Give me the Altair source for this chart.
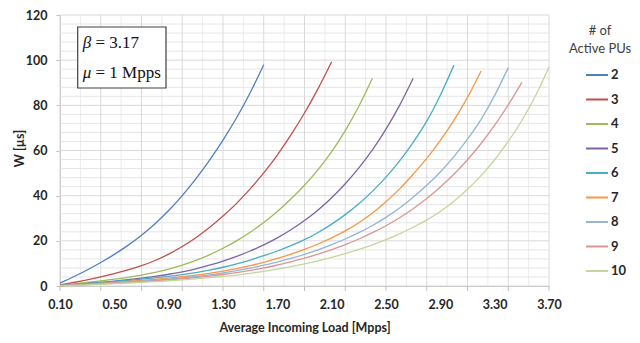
import altair as alt
import pandas as pd

# ---------------- data ----------------
loads = [0.1, 0.2, 0.3, 0.4, 0.5, 0.6, 0.7, 0.8, 0.9, 1.0, 1.1, 1.2, 1.3, 1.4,
         1.5, 1.6, 1.7, 1.8, 1.9, 2.0, 2.1, 2.2, 2.3, 2.4, 2.5, 2.6, 2.7, 2.8,
         2.9, 3.0, 3.1, 3.2, 3.3, 3.4, 3.5, 3.6, 3.7]
pus = ["2", "3", "4", "5", "6", "7", "8", "9", "10"]

w2 = [1.3, 4.1, 7.1, 10.4, 14.0, 18.0, 22.5, 27.6, 33.4, 40.0, 47.4, 55.6, 64.6, 74.5, 85.6, 98.0]
w3 = [0.5, 1.55, 2.7, 4.0, 5.45, 7.1, 9.0, 11.3, 14.1, 17.5, 21.4, 25.9, 31.0, 36.6, 43.0, 50.1,
      58.0, 66.9, 76.6, 87.4, 99.3]
w4 = [0.3, 0.9, 1.55, 2.25, 3.0, 3.85, 4.85, 6.05, 7.5, 9.2, 11.3, 13.8, 16.7, 20.0, 23.8, 28.1,
      33.0, 38.5, 44.6, 51.5, 59.5, 68.8, 79.6, 92.0]
w5 = [0.2, 0.6, 1.1, 1.6, 2.2, 2.8, 3.5, 4.3, 5.2, 6.3, 7.6, 9.2, 11.0, 13.1, 15.5, 18.2,
      21.3, 24.9, 29.0, 33.7, 39.1, 45.3, 52.3, 60.3, 69.5, 80.0, 92.0]
w6 = [0.2, 0.6, 1.0, 1.5, 2.0, 2.5, 3.0, 3.6, 4.3, 5.0, 5.9, 7.0, 8.3, 9.8, 11.5, 13.4,
      15.5, 17.9, 20.5, 23.7, 27.4, 31.6, 36.4, 41.9, 48.2, 55.4, 63.6, 73.0, 84.5, 97.8]
w7 = [0.15, 0.5, 0.85, 1.2, 1.6, 2.0, 2.45, 2.95, 3.5, 4.1, 4.8, 5.6, 6.6, 7.7, 9.0, 10.5,
      12.2, 14.1, 16.2, 18.6, 21.3, 24.4, 28.0, 32.3, 37.3, 43.0, 49.5, 56.5, 64.5, 73.3,
      83.5, 95.2]
w8 = [0.12, 0.4, 0.7, 1.0, 1.35, 1.7, 2.1, 2.55, 3.05, 3.6, 4.2, 4.95, 5.8, 6.8, 7.9, 9.2,
      10.6, 12.2, 14.0, 16.0, 18.3, 20.8, 23.6, 26.8, 30.4, 34.5, 39.3, 44.6, 50.5, 57.3,
      65.0, 73.8, 84.4, 96.7]
w9 = [0.1, 0.35, 0.6, 0.9, 1.2, 1.5, 1.85, 2.25, 2.7, 3.2, 3.75, 4.4, 5.1, 5.95, 6.9, 8.0,
      9.3, 10.7, 12.3, 14.1, 16.1, 18.3, 20.8, 23.6, 26.7, 30.2, 34.2, 38.7, 43.8, 49.5,
      55.9, 63.1, 71.2, 80.2, 90.2]
w10 = [0.08, 0.3, 0.52, 0.77, 1.02, 1.32, 1.62, 1.97, 2.32, 2.72, 3.17, 3.67, 4.22, 4.82,
       5.62, 6.52, 7.52, 8.62, 9.82, 11.17, 12.67, 14.32, 16.17, 18.22, 20.52, 23.12, 26.02,
       29.27, 33.0, 37.5, 42.8, 48.9, 55.9, 64.0, 73.3, 84.1, 97.0]
series = [w2, w3, w4, w5, w6, w7, w8, w9, w10]

colors = ["#4F81BD", "#C0504D", "#9BBB59", "#8064A2", "#4BACC6",
          "#F79646", "#95B3D7", "#D99694", "#C3D69B"]

x_labels = [0.1, 0.5, 0.9, 1.3, 1.7, 2.1, 2.5, 2.9, 3.3, 3.7]
x_major = [0.1, 0.4, 0.7, 1.0, 1.3, 1.6, 1.9, 2.2, 2.5, 2.8, 3.1, 3.4, 3.7]
x_minor = [0.25, 0.55, 0.85, 1.15, 1.45, 1.75, 2.05, 2.35, 2.65, 2.95, 3.25, 3.55]
y_major = [0, 20, 40, 60, 80, 100, 120]
y_minor = [4, 8, 12, 16, 24, 28, 32, 36, 44, 48, 52, 56, 64, 68, 72, 76,
           84, 88, 92, 96, 104, 108, 112, 116]

rows = []
for p, ws in zip(pus, series):
    for x, w in zip(loads, ws):
        rows.append({"load": x, "W": w, "pus": p})
df = pd.DataFrame(rows)

# ---------------- chart ----------------
PW, PH = 489, 271
FONT = "Lato"
TXT = "#262626"
AXC = "#bfbfbf"

xs = alt.Scale(domain=[0.1, 3.7], nice=False, zero=False)
ys = alt.Scale(domain=[0, 120], nice=False, zero=True)
one = pd.DataFrame({"a": [0]})

x_axis = alt.Axis(values=x_labels, format=".2f", title="Average Incoming Load [Mpps]",
                  grid=False, ticks=False, domainColor=AXC, labelFont=FONT,
                  labelFontWeight="bold", labelFontSize=12.5, labelColor=TXT,
                  labelPadding=12, labelFlush=False, titleFont=FONT, titleFontWeight="bold",
                  titleFontSize=12.5, titleColor=TXT, titleY=41, titleBaseline="middle")
y_axis = alt.Axis(values=y_major, title="W [µs]", grid=False, tickSize=4, tickColor=AXC,
                  domainColor=AXC, labelFont=FONT, labelFontWeight="bold",
                  labelFontSize=12.5, labelColor=TXT, labelPadding=9,
                  titleFont=FONT, titleFontWeight="bold", titleFontSize=12.5,
                  titleColor=TXT, titleX=-41, titleY=133, titleBaseline="middle",
                  titleAlign="center")

vminor = alt.Chart(pd.DataFrame({"x": x_minor})).mark_rule(color="#ececec", strokeWidth=1).encode(
    x=alt.X("x:Q", scale=xs, axis=x_axis))
hminor = alt.Chart(pd.DataFrame({"y": y_minor})).mark_rule(color="#e6e6e6", strokeWidth=1).encode(
    y=alt.Y("y:Q", scale=ys, axis=y_axis))
vmajor = alt.Chart(pd.DataFrame({"x": x_major})).mark_rule(color="#d9d9d9", strokeWidth=1).encode(
    x=alt.X("x:Q", scale=xs, axis=x_axis))
hmajor = alt.Chart(pd.DataFrame({"y": y_major})).mark_rule(color="#d9d9d9", strokeWidth=1).encode(
    y=alt.Y("y:Q", scale=ys, axis=y_axis))
xticks = alt.Chart(pd.DataFrame({"x": x_major})).mark_rule(color=AXC, strokeWidth=1).encode(
    x=alt.X("x:Q", scale=xs, axis=x_axis), y=alt.value(PH), y2=alt.value(PH + 5))

lines = alt.Chart(df).mark_line(strokeWidth=1.3, interpolate="monotone").encode(
    x=alt.X("load:Q", scale=xs, axis=x_axis),
    y=alt.Y("W:Q", scale=ys, axis=y_axis),
    color=alt.Color("pus:N", scale=alt.Scale(domain=pus, range=colors), sort=pus,
                    legend=alt.Legend(title=None, orient="none", legendX=525, legendY=48,
                                      symbolType="stroke", symbolSize=484, symbolStrokeWidth=2,
                                      labelFont=FONT, labelFontWeight="bold", labelFontSize=13,
                                      labelColor=TXT, rowPadding=5.5, labelOffset=2, padding=0)),
)

leg_title = alt.Chart(one).mark_text(text=["# of", "Active PUs"], font=FONT, fontSize=13,
                                      color="#404040", align="center", baseline="alphabetic",
                                      lineHeight=18).encode(x=alt.value(540), y=alt.value(20))

box = alt.Chart(one).mark_rect(fill="white", stroke="#404040", strokeWidth=1.2).encode(
    x=alt.value(17.7), x2=alt.value(106), y=alt.value(12), y2=alt.value(73))
sym_b = alt.Chart(one).mark_text(text="β", font="Liberation Serif", fontStyle="italic",
                                 fontSize=17, align="left", baseline="middle", color="#111").encode(
    x=alt.value(22.7), y=alt.value(27.6))
val_b = alt.Chart(one).mark_text(text="= 3.17", font="Liberation Serif", fontSize=17,
                                 align="left", baseline="middle", color="#111").encode(
    x=alt.value(35.5), y=alt.value(27.6))
sym_m = alt.Chart(one).mark_text(text="μ", font="Liberation Serif", fontStyle="italic",
                                 fontSize=17, align="left", baseline="middle", color="#111").encode(
    x=alt.value(22.7), y=alt.value(57.6))
val_m = alt.Chart(one).mark_text(text="= 1 Mpps", font="Liberation Serif", fontSize=17,
                                 align="left", baseline="middle", color="#111").encode(
    x=alt.value(35.5), y=alt.value(57.6))

chart = alt.layer(vminor, hminor, vmajor, hmajor, xticks, lines, box, sym_b, val_b, sym_m,
                  val_m, leg_title).properties(
    width=PW, height=PH,
    padding={"left": 52, "top": 7, "right": 83, "bottom": 49},
    autosize=alt.AutoSizeParams(type="none"),
    background="white",
).configure_view(stroke=None)

chart.save("out.html", embed_options={"renderer": "svg", "actions": False})
